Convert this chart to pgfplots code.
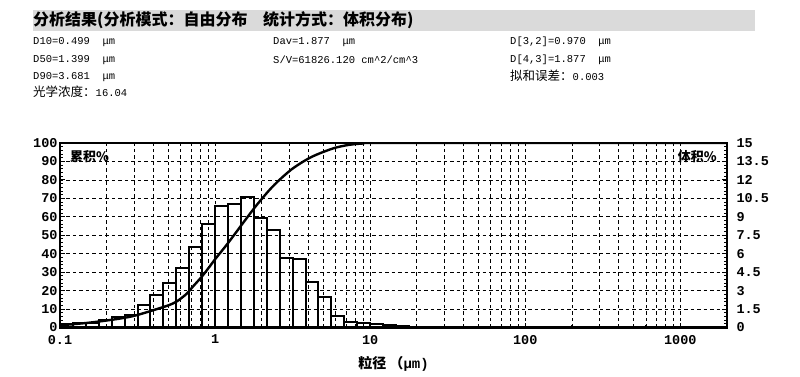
\documentclass[border=0pt]{standalone}
\usepackage{pgfplots}
\pgfplotsset{compat=1.18}
\usepackage{fontspec}
\setmainfont{Liberation Sans}
\setmonofont{Liberation Mono}
\newfontfamily\cjk{Noto Sans CJK SC}
\newcommand{\info}{\ttfamily\fontsize{10.5}{11}\selectfont}
\newcommand{\cinfo}{\cjk\fontsize{12.5}{12.5}\selectfont}
\definecolor{bandgray}{RGB}{218,218,218}
\begin{document}
\begin{tikzpicture}[x=1pt,y=1pt]
\useasboundingbox (0,0) rectangle (800,376);
% header band
\fill[bandgray] (33,345) rectangle (755,366);
\node[anchor=west, inner sep=0] at (33,355.5) {\cjk\bfseries\fontsize{16}{16}\selectfont 分析结果(分析模式：自由分布};
\node[anchor=west, inner sep=0] at (263,355.5) {\cjk\bfseries\fontsize{16}{16}\selectfont 统计方式：体积分布)};
% info lines
\node[anchor=west, inner sep=0] at (33,334.3) {\info D10=0.499\ \ μm};
\node[anchor=west, inner sep=0] at (33,316) {\info D50=1.399\ \ μm};
\node[anchor=west, inner sep=0] at (33,299) {\info D90=3.681\ \ μm};
\node[anchor=west, inner sep=0] at (33,284.3) {\cinfo 光学浓度：\info 16.04};
\node[anchor=west, inner sep=0] at (273,334.3) {\info Dav=1.877\ \ μm};
\node[anchor=west, inner sep=0] at (273,316) {\info S/V=61826.120 cm\textasciicircum 2/cm\textasciicircum 3};
\node[anchor=west, inner sep=0] at (510,334.3) {\info D[3,2]=0.970\ \ μm};
\node[anchor=west, inner sep=0] at (510,316) {\info D[4,3]=1.877\ \ μm};
\node[anchor=west, inner sep=0] at (510,300) {\cinfo 拟和误差：\info 0.003};

% axis with bars (volume %, right scale)
\begin{axis}[
  at={(60pt,48.5pt)}, anchor=south west,
  scale only axis, width=667pt, height=184.5pt,
  xmode=log, xmin=0.1, xmax=2000,
  ymin=0, ymax=15,
  xtick={0.1,1,10,100,1000},
  xticklabels={0.1,1,10,100,1000},
  ytick={0,1.5,3,4.5,6,7.5,9,10.5,12,13.5,15},
  yticklabels={0,1.5,3,4.5,6,7.5,9,10.5,12,13.5,15},
  minor y tick num=4,
  ytick pos=right, yticklabel pos=right,
  xtick pos=bottom,
  tick align=inside,
  major tick length=5pt, minor tick length=3pt,
  tick style={black, line width=0.9pt},
  axis line style={black, line width=2.4pt},
  xmajorgrids=true, xminorgrids=true, ymajorgrids=true,
  major grid style={black, line width=0.8pt, dash pattern=on 3.5pt off 3pt},
  minor grid style={black, line width=0.8pt, dash pattern=on 3.5pt off 3pt},
  tick label style={font=\ttfamily\bfseries\fontsize{13.5}{14}\selectfont},
  xticklabel style={yshift=-4pt},
  yticklabel style={xshift=6pt},
  xlabel={\cjk\bfseries\fontsize{14}{14}\selectfont 粒径 （\ttfamily μm)},
  xlabel style={yshift=-5pt},
  clip=false,
]
\addplot[ybar interval, draw=black, fill=none, line width=2pt] coordinates {
(0.1,0.29) (0.12115,0.37) (0.14678,0.39) (0.17783,0.61) (0.21544,0.83)
(0.26102,1.02) (0.31623,1.83) (0.38312,2.65) (0.46416,3.6) (0.56234,4.87)
(0.68129,6.58) (0.8254,8.41) (1.0,9.85) (1.2115,10.07) (1.4678,10.61)
(1.7783,8.9) (2.1544,7.95) (2.6102,5.64) (3.1623,5.58) (3.8312,3.73)
(4.6416,2.51) (5.6234,0.94) (6.8129,0.47) (8.254,0.39) (10.0,0.29)
(12.115,0.18) (14.678,0.12) (17.783,0.08) (21.544,0.05) (26.102,0.03)
(31.623,0)
};
\node[anchor=north west, inner sep=0] at (rel axis cs:0.015,0.96) {\cjk\bfseries\fontsize{13}{13}\selectfont 累积\%};
\node[anchor=north east, inner sep=0] at (rel axis cs:0.985,0.96) {\cjk\bfseries\fontsize{13}{13}\selectfont 体积\%};
\end{axis}

% axis with cumulative curve (left scale)
\begin{axis}[
  at={(60pt,48.5pt)}, anchor=south west,
  scale only axis, width=667pt, height=184.5pt,
  xmode=log, xmin=0.1, xmax=2000,
  ymin=0, ymax=100,
  hide x axis,
  axis y line*=left,
  ytick={0,10,20,30,40,50,60,70,80,90,100},
  yticklabels={0,10,20,30,40,50,60,70,80,90,100},
  minor y tick num=4,
  tick align=inside,
  major tick length=5pt, minor tick length=3pt,
  tick style={black, line width=0.9pt},
  axis line style={black, line width=2.4pt},
  tick label style={font=\ttfamily\bfseries\fontsize{13.5}{14}\selectfont},
  yticklabel style={xshift=1pt},
]
\addplot[smooth, black, line width=2.4pt] coordinates {
(0.1,1.2) (0.15,2.5) (0.2,3.8) (0.25,5.0) (0.3,6.3) (0.37,8.5) (0.44,10.5)
(0.5,12.0) (0.563,14.0) (0.65,18.0) (0.72,22.2) (0.82,27.5) (0.922,33.0)
(1.0,37.0) (1.18,44.5) (1.35,51.0) (1.51,56.5) (1.84,66.0) (2.24,74.5)
(2.6,80.0) (3.09,85.5) (3.6,89.3) (4.2,92.5) (5.0,95.2) (6.0,97.5)
(7.3,99.0) (8.9,99.7) (12,100) (2000,100)
};
\end{axis}
\end{tikzpicture}
\end{document}
